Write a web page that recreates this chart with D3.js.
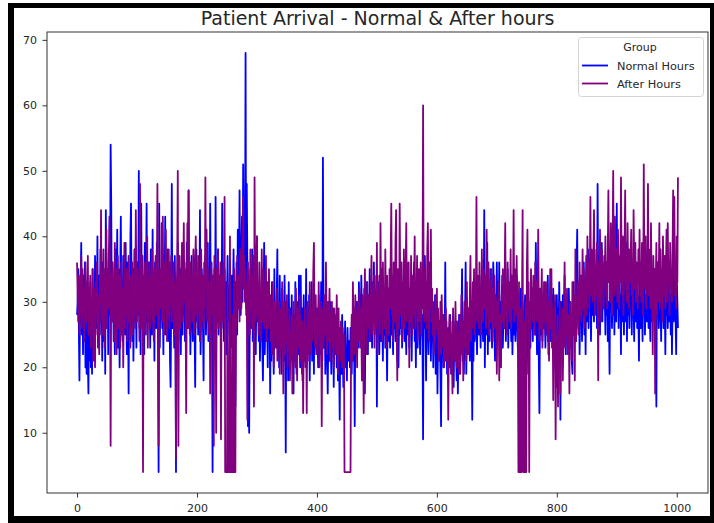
<!DOCTYPE html>
<html>
<head>
<meta charset="utf-8">
<script src="https://cdn.jsdelivr.net/npm/d3@7"></script>
<style>
  html, body { margin: 0; padding: 0; background: #fff; }
  svg { display: block; font-family: "DejaVu Sans", sans-serif; }
</style>
</head>
<body>
<svg id="chart" width="714" height="523"></svg>
<script>
// Chart text
const chartTitle = "Patient Arrival - Normal & After hours";
const legendTitle = "Group";
const seriesNames = ["Normal Hours", "After Hours"];
const seriesColors = ["#0000ff", "#800080"];

// Daily arrivals, one value per day index
const normalHours = [
28,30,35,26,18,29,33,39,25,31,22,34,27,36,20,24,19,29,21,16,
30,21,33,20,27,19,35,24,31,22,37,28,33,26,40,23,29,34,25,38,
27,32,21,36,29,24,33,19,44,30,26,35,22,38,28,31,54,45,27,36,
33,24,29,22,38,26,31,41,23,35,28,20,34,43,27,30,24,37,29,33,
25,39,31,22,36,29,16,33,26,40,45,30,24,35,21,29,38,27,33,23,
36,28,31,50,26,34,22,45,29,37,24,32,22,39,27,33,45,25,30,36,
27,34,23,38,30,25,41,28,33,21,36,29,26,39,31,24,4,45,23,32,
28,35,26,30,22,37,29,43,25,33,27,38,24,31,36,21,17,30,48,26,
34,29,23,37,28,4,32,26,39,24,31,27,35,22,30,38,25,33,28,36,
24,31,27,39,29,35,47,26,33,22,30,37,28,24,34,29,26,17,32,38,
27,33,25,36,30,44,22,28,35,31,26,18,34,29,37,25,31,28,39,24,
33,27,45,30,36,26,4,31,28,35,24,46,29,33,27,38,25,30,34,28,
36,26,45,31,29,24,35,28,33,22,30,37,27,32,25,36,29,23,34,28,
31,38,27,33,14,30,36,25,41,29,34,47,32,28,37,43,30,51,35,39,
33,68,29,48,36,11,32,10,27,35,30,26,38,24,33,29,25,36,22,31,
40,27,33,24,30,21,28,25,32,23,18,29,39,22,27,31,24,28,20,33,
24,30,16,27,21,33,25,29,19,35,23,28,26,31,38,22,27,20,34,25,
29,19,32,24,27,21,34,26,7,30,23,28,18,33,25,20,29,24,31,22,
26,16,28,21,33,24,19,30,25,22,34,27,20,34,23,29,18,26,31,21,
27,24,35,20,29,25,22,31,18,27,24,33,21,28,26,19,30,23,27,22,
29,25,20,31,24,28,22,33,26,21,52,27,23,30,19,26,29,22,16,25,
28,21,30,24,19,27,23,29,17,26,28,22,25,20,27,18,24,21,12,26,
22,19,28,24,17,25,21,27,20,23,18,26,22,21,24,20,26,23,19,25,
21,28,24,11,27,22,30,25,29,23,33,26,31,24,34,28,22,30,26,32,
16,29,25,33,27,22,31,26,35,24,30,28,23,33,27,36,25,31,29,34,
14,30,26,33,22,28,30,24,35,27,21,31,25,29,23,33,26,18,28,24,
32,27,23,30,25,34,28,22,33,26,29,24,33,27,21,30,20,28,25,31,
26,33,23,29,27,35,24,31,26,22,36,28,25,32,23,30,27,34,21,29,
26,32,36,24,28,20,31,27,23,33,26,29,22,30,25,28,24,9,31,26,
37,28,18,30,24,27,22,29,25,33,21,27,24,29,20,26,23,31,19,25,
28,16,24,27,21,25,19,11,26,22,28,20,25,23,36,21,27,19,24,22,
26,20,28,23,19,25,22,28,17,24,21,27,23,18,26,16,22,28,20,25,
23,27,35,21,26,19,24,28,36,19,25,22,29,24,27,21,30,25,23,12,
27,21,30,24,28,33,26,22,31,27,25,34,28,23,32,26,30,24,29,44,
20,30,25,33,39,22,31,28,24,35,26,30,23,29,36,33,25,21,31,28,
36,24,33,27,36,22,30,25,29,34,23,28,31,26,33,24,29,27,35,23,
30,26,32,28,24,31,22,27,33,25,29,24,30,34,27,23,31,26,29,24,
32,27,25,30,23,28,26,31,24,29,19,27,32,25,30,28,23,33,26,30,
24,31,27,33,25,39,28,22,30,26,21,13,29,25,32,27,24,30,26,33,
28,23,31,25,29,34,22,27,30,26,24,31,28,23,32,27,25,30,22,28,
31,25,29,24,33,27,12,30,26,23,31,28,25,34,27,22,29,26,30,24,
32,27,23,30,26,21,19,28,33,25,31,27,24,35,41,28,26,32,22,29,
27,33,24,30,28,36,25,31,22,34,27,30,38,26,33,29,35,24,31,28,
36,30,27,38,33,29,35,26,48,32,28,37,25,34,30,39,27,33,29,36,
31,25,35,28,33,24,30,27,19,34,29,36,26,32,28,38,25,33,30,27,
45,29,35,26,33,28,31,22,37,27,34,29,25,36,30,27,39,24,32,28,
35,26,31,29,37,25,33,28,30,24,36,29,27,34,26,31,28,21,33,29,
26,35,30,24,38,28,32,25,31,29,27,36,30,26,33,28,24,34,30,27,
32,29,35,27,31,25,14,36,28,33,26,30,37,29,24,34,28,31,26,33,
30,22,35,28,32,26,30,34,27,31,25,33,22,29,36,27,31,35,28,22,
34,30,26
];

const afterHours = [
36,31,27,34,25,29,33,37,26,35,28,32,24,30,36,27,33,29,37,25,
31,28,34,23,30,26,35,21,32,27,20,33,29,36,25,31,28,22,34,30,
44,27,33,25,38,30,23,35,28,41,26,32,29,37,43,31,8,34,28,36,
27,33,24,39,29,35,22,31,37,26,30,34,23,28,36,25,32,20,29,39,
26,33,28,35,24,31,37,27,30,23,34,29,36,25,32,28,38,26,44,31,
27,35,29,33,24,48,30,26,37,31,4,34,28,36,25,32,29,40,23,33,
30,36,26,34,29,38,27,32,24,35,30,37,28,33,48,31,8,26,35,29,
33,42,27,43,30,25,36,29,41,32,24,35,28,38,26,33,30,37,27,34,
29,36,25,33,28,6,31,35,50,8,30,37,26,34,29,39,27,32,42,30,
35,28,13,33,42,26,47,31,25,36,29,34,27,32,38,25,30,36,40,28,
33,26,37,29,35,24,31,38,27,34,30,26,36,29,49,32,41,27,35,30,
25,33,16,31,36,28,34,30,8,37,27,32,10,35,29,38,26,33,30,36,
9,31,34,27,36,30,46,4,4,4,4,33,4,4,4,40,4,4,4,28,
4,4,35,4,4,30,26,37,29,34,31,27,38,33,29,35,41,46,32,37,
30,35,28,33,12,36,27,31,25,38,29,34,26,30,37,14,49,32,27,35,
40,28,33,25,36,29,31,24,38,27,30,35,26,32,28,37,24,29,33,26,
35,27,31,24,29,22,33,26,20,30,25,28,23,32,21,27,24,30,19,26,
29,23,33,27,16,25,30,22,28,24,31,20,27,23,29,18,25,21,28,16,
24,30,22,27,20,32,25,18,29,23,26,31,21,28,24,19,27,13,25,22,
29,20,26,13,30,24,28,21,33,25,22,29,24,27,35,39,26,23,31,25,
22,28,25,33,20,27,24,30,11,26,29,23,31,27,25,36,28,22,30,24,
27,32,21,28,25,30,23,26,20,29,24,27,22,31,25,19,29,23,26,21,
27,24,20,26,22,25,4,4,4,4,4,4,4,4,4,4,4,24,28,21,
33,26,29,22,31,25,28,20,30,24,27,32,23,29,26,18,31,24,13,28,
35,27,30,22,33,26,29,31,24,28,32,37,25,30,27,34,23,31,28,26,
39,22,31,27,34,25,42,29,33,24,36,28,31,26,38,30,23,34,27,32,
25,35,29,37,45,28,33,24,36,30,27,39,44,26,18,35,30,26,45,31,
28,36,24,33,29,38,26,31,35,42,27,33,29,36,20,32,27,37,30,25,
34,28,31,40,26,33,29,37,24,32,35,27,30,36,25,33,29,60,31,27,
35,28,33,26,38,42,30,24,36,29,41,27,32,25,30,22,28,24,31,26,
32,25,29,21,27,24,30,22,31,26,23,28,20,27,24,29,21,26,23,12,
25,28,22,27,19,24,16,29,23,26,21,30,24,20,27,22,25,19,28,19,
24,31,22,27,18,26,30,23,28,21,33,25,29,22,27,31,37,24,30,26,
33,28,35,25,31,29,46,27,34,30,26,36,28,32,25,38,30,27,35,31,
29,34,26,41,32,28,36,25,33,30,27,35,29,24,32,28,34,26,31,27,
19,30,25,33,18,28,24,20,31,27,35,29,26,33,42,28,31,25,36,29,
33,27,30,38,26,34,29,31,44,27,35,30,28,37,31,26,4,33,4,29,
4,4,31,44,4,27,4,4,30,4,35,41,28,33,4,30,26,35,29,32,
27,34,30,25,36,29,33,27,31,41,28,24,32,26,30,35,23,31,27,33,
29,25,33,27,31,24,30,21,28,35,26,35,23,29,15,27,20,31,9,24,
17,28,14,25,21,30,16,26,22,29,18,24,27,36,23,29,25,32,22,28,
26,16,30,24,28,21,33,27,25,31,18,38,24,29,27,33,25,30,36,28,
34,27,31,38,29,35,26,33,30,37,28,40,32,36,29,34,46,31,38,33,
30,37,44,33,28,35,31,39,34,18,36,30,41,33,27,38,32,35,29,37,
34,40,31,36,29,38,47,33,37,30,42,35,28,39,50,34,31,43,36,32,
38,30,41,35,29,37,33,49,36,31,40,28,35,39,47,32,37,30,42,34,
29,38,33,36,41,31,35,28,44,37,32,39,30,36,34,29,38,33,41,31,
36,30,39,34,28,51,35,32,40,29,37,33,48,31,38,35,29,42,34,30,
22,37,31,35,16,33,39,28,36,30,34,42,29,38,32,35,27,40,33,31,
37,29,35,41,30,42,33,36,28,39,32,35,30,38,47,34,46,31,36,29,
40,33,49
];

const xTicks = [0, 200, 400, 600, 800, 1000];
const yTicks = [10, 20, 30, 40, 50, 60, 70];

const W = 714, H = 523;
const plot = { left: 47, right: 708, top: 32, bottom: 493 };
const textColor = "#262626";
const svg = d3.select("#chart");

svg.append("rect").attr("x", 0).attr("y", 0).attr("width", W).attr("height", H).attr("fill", "#fff");

// Scales padded by 5% of the data span on each side
const series = [normalHours, afterHours];
const nMax = d3.max(series, s => s.length) - 1;
const vMin = d3.min(series, s => d3.min(s));
const vMax = d3.max(series, s => d3.max(s));
const xPad = 0.05 * nMax, yPad = 0.05 * (vMax - vMin);

const x = d3.scaleLinear().domain([-xPad, nMax + xPad]).range([plot.left, plot.right]);
const y = d3.scaleLinear().domain([vMin - yPad, vMax + yPad]).range([plot.bottom, plot.top]);

// Series lines
const line = d3.line().x((d, i) => x(i)).y(d => y(d));
svg.append("defs").append("clipPath").attr("id", "plotClip")
  .append("rect")
  .attr("x", plot.left).attr("y", plot.top)
  .attr("width", plot.right - plot.left).attr("height", plot.bottom - plot.top);

const lines = svg.append("g").attr("clip-path", "url(#plotClip)");
series.forEach((s, k) => {
  lines.append("path")
    .datum(s)
    .attr("d", line)
    .attr("fill", "none")
    .attr("stroke", seriesColors[k])
    .attr("stroke-width", 1.8)
    .attr("stroke-linejoin", "round");
});

// Axes
const xAxis = svg.append("g")
  .attr("transform", `translate(0,${plot.bottom})`)
  .call(d3.axisBottom(x).tickValues(xTicks).tickSize(4.5).tickPadding(6.5).tickFormat(d3.format("d")));
const yAxis = svg.append("g")
  .attr("transform", `translate(${plot.left},0)`)
  .call(d3.axisLeft(y).tickValues(yTicks).tickSize(4.5).tickPadding(5.5).tickFormat(d3.format("d")));

[xAxis, yAxis].forEach(g => {
  g.select(".domain").remove();
  g.selectAll(".tick line").attr("stroke", "#333").attr("stroke-width", 1);
  g.selectAll(".tick text")
    .attr("fill", textColor)
    .style("font-family", "'DejaVu Sans', sans-serif")
    .style("font-size", "11px");
});

// Axes frame
svg.append("rect")
  .attr("x", plot.left).attr("y", plot.top)
  .attr("width", plot.right - plot.left).attr("height", plot.bottom - plot.top)
  .attr("fill", "none").attr("stroke", "#333").attr("stroke-width", 1);

// Title
svg.append("text")
  .attr("x", (plot.left + plot.right) / 2)
  .attr("y", 25)
  .attr("text-anchor", "middle")
  .attr("fill", textColor)
  .style("font-size", "19px")
  .text(chartTitle);

// Legend
const lg = svg.append("g");
lg.append("rect")
  .attr("x", 578.5).attr("y", 37.5).attr("width", 125).attr("height", 59).attr("rx", 3)
  .attr("fill", "#fff").attr("fill-opacity", 0.8)
  .attr("stroke", "#d4d4d4").attr("stroke-width", 1);
lg.append("text")
  .attr("x", 640).attr("y", 51)
  .attr("text-anchor", "middle")
  .attr("fill", textColor)
  .style("font-size", "11px")
  .text(legendTitle);
seriesNames.forEach((name, k) => {
  const cy = 65.5 + k * 18;
  lg.append("line")
    .attr("x1", 582).attr("x2", 608).attr("y1", cy).attr("y2", cy)
    .attr("stroke", seriesColors[k]).attr("stroke-width", 1.8);
  lg.append("text")
    .attr("x", 617).attr("y", cy + 4)
    .attr("fill", textColor)
    .style("font-size", "11.3px")
    .text(name);
});

// Outer black border
const border = svg.append("g").attr("fill", "#000");
border.append("rect").attr("x", 8).attr("y", 3).attr("width", 6).attr("height", H - 3);
border.append("rect").attr("x", 8).attr("y", 3).attr("width", W - 8).attr("height", 5);
border.append("rect").attr("x", 710).attr("y", 3).attr("width", 4).attr("height", H - 3);
border.append("rect").attr("x", 8).attr("y", 516).attr("width", W - 8).attr("height", 7);
</script>
</body>
</html>
